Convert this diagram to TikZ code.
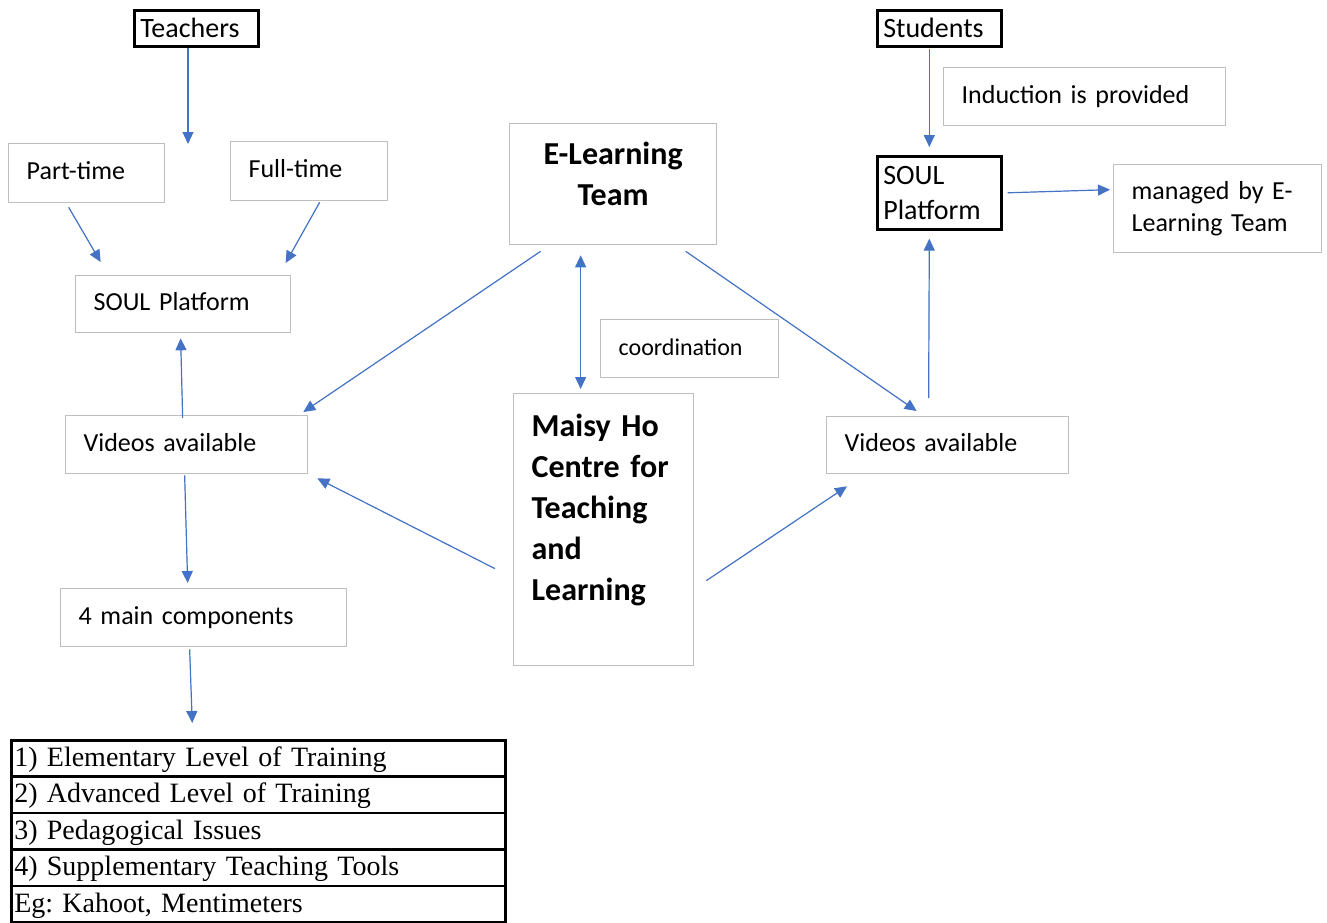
\documentclass[tikz,border=0pt]{standalone}
\usepackage{fontspec}
\setmainfont{Carlito}
\newfontfamily\tabfont{Liberation Serif}
\usepackage{tikz}
\usetikzlibrary{arrows.meta}
\definecolor{arrowblue}{RGB}{68,114,196}
\definecolor{boxgray}{RGB}{191,191,191}
\frenchspacing

\begin{document}
\begin{tikzpicture}[x=1pt, y=-1pt,
	>={Triangle[length=12pt,width=11pt]},
	box/.style={draw=boxgray, line width=1.3pt, anchor=north west, inner xsep=18pt, inner ysep=0pt, align=left, font=\fontsize{26}{32}\selectfont},
	oneline/.style={text height=18pt, text depth=5pt},
	blackbox/.style={draw=black, line width=2.6pt, anchor=north west, inner xsep=6pt, inner ysep=0pt, text width=112pt, align=left, font=\fontsize{28}{35}\selectfont},
	title/.style={font=\fontsize{32}{41}\selectfont\bfseries},
	row/.style={draw=black, line width=2.5pt, anchor=north west, minimum height=36.4pt, inner xsep=3pt, inner ysep=0pt, text width=488pt, align=left, text height=20pt, text depth=4pt, font=\tabfont\fontsize{28}{32}\selectfont},
	arr/.style={->, draw=arrowblue, fill=arrowblue, line width=1.2pt}
]
	\useasboundingbox (0,0) rectangle (1327,922);

	% teachers side
	\node [blackbox, minimum height=36pt, text height=23pt, text depth=5pt] (teach) at (133,9) {Teachers};
	\coordinate (tsplit) at (188,144);
	\node [box, oneline, text width=120pt, minimum height=59pt] (pt) at (8,143) {Part-time};
	\node [box, oneline, text width=121pt, minimum height=59pt] (ft) at (230,141) {Full-time};
	\node [box, oneline, text width=179pt, minimum height=57pt] (soulL) at (75,275) {SOUL Platform};
	\node [box, oneline, text width=206pt, minimum height=58pt] (vidL) at (65,415) {Videos available};
	\node [box, oneline, text width=250pt, minimum height=58pt] (comp) at (60,588) {4 main components};

	\node [row] (row1) at (10,739) {1) Elementary Level of Training};
	\node [row] (row2) at (10,775.4) {2) Advanced Level of Training};
	\node [row] (row3) at (10,811.8) {3) Pedagogical Issues};
	\node [row] (row4) at (10,848.2) {4) Supplementary Teaching Tools};
	\node [row] (row5) at (10,884.6) {Eg: Kahoot, Mentimeters};

	% centre
	\node [box, title, align=center, text width=171pt, minimum height=121pt, text depth=62pt] (elt) at (509,123) {E-Learning\\Team};
	\node [box, oneline, text width=142pt, minimum height=58pt, font=\fontsize{24}{30}\selectfont] (coord) at (600,319) {coordination};
	\node [box, title, text width=144pt, minimum height=272pt, text depth=209pt] (maisy) at (513,393) {Maisy Ho\\Centre for\\Teaching\\and\\Learning};

	% students side
	\node [blackbox, minimum height=36pt, text height=23pt, text depth=5pt] (stud) at (876,9) {Students};
	\node [box, oneline, text width=246pt, minimum height=58pt] (induc) at (943,67) {Induction is provided};
	\node [blackbox, minimum height=73pt] (soulR) at (876,155) {SOUL\\Platform};
	\node [box, text width=172pt, minimum height=88pt] (mgd) at (1113,164) {managed by E-\\Learning Team};
	\node [box, oneline, text width=206pt, minimum height=57pt] (vidR) at (826,416) {Videos available};

	\draw [arr] (teach.south -| tsplit) -- (tsplit);
	\draw [arr] ([shift={(-18,4)}]pt.south) -- ([shift={(-82.5,-13)}]soulL.north);
	\draw [arr] ([shift={(10.5,1)}]ft.south) -- ([shift={(102.5,-12)}]soulL.north);
	\draw [arr] ([shift={(-4,3)}]vidL.north) -- ([shift={(-2.5,5)}]soulL.south);
	\draw [arr] ([shift={(-2,1)}]vidL.south) -- ([shift={(-16,-5)}]comp.north);
	\draw [arr] ([shift={(-14,2)}]comp.south) -- ([shift={(-66,-16)}]row1.north);

	\draw [arr] ([shift={(-72.5,6)}]elt.south) -- ([shift={(-5,-3)}]vidL.north east);
	\draw [arr] ([shift={(72.5,6)}]elt.south) -- ([shift={(-31,-5)}]vidR.north);
	\draw [arr, <->] ([shift={(-32.5,10)}]elt.south) -- ([shift={(-23,-4)}]maisy.north);
	\draw [arr] ([shift={(-18,39)}]maisy.west) -- ([shift={(9,4)}]vidL.south east);
	\draw [arr] ([shift={(12,51)}]maisy.east) -- ([shift={(21,12)}]vidR.south west);

	\draw [arr] ([shift={(-10,1)}]stud.south) -- ([shift={(-10,-8)}]soulR.north);
	\draw [arr] ([shift={(-19,-18)}]vidR.north) -- ([shift={(-10,8)}]soulR.south);
	\draw [arr] ([shift={(5,0)}]soulR.east) -- ([shift={(-3,-19)}]mgd.west);
\end{tikzpicture}
\end{document}
